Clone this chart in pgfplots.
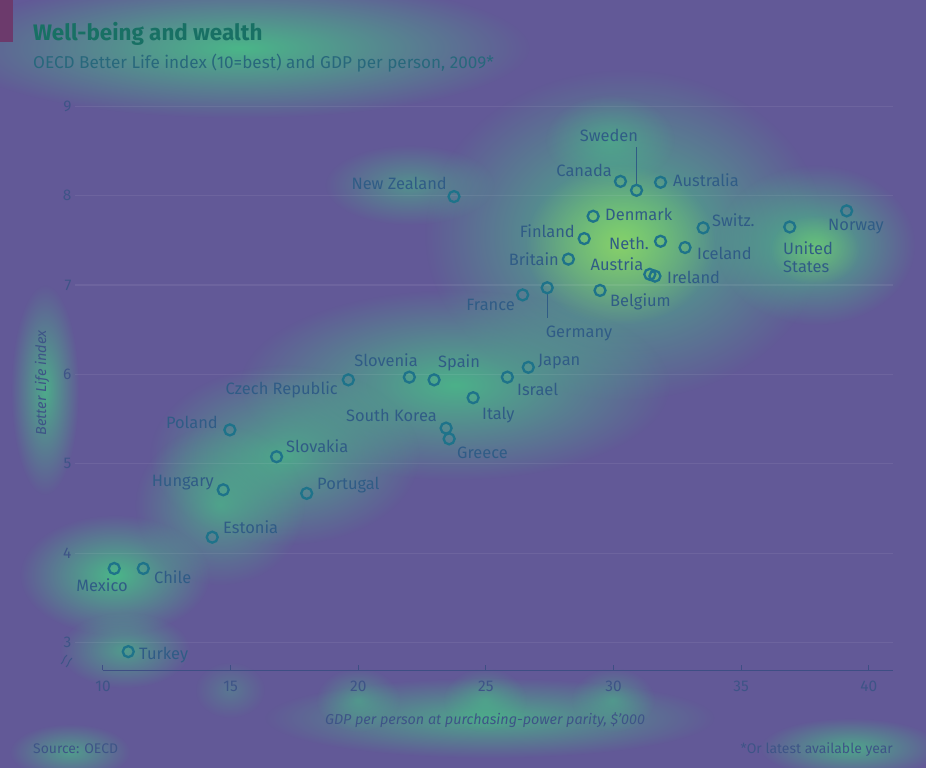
\documentclass[border=0pt]{standalone}
\usepackage{pgfplots}
\pgfplotsset{compat=1.18}
\usepackage{pgfplotstable}
\usepackage{fontspec}
\setmainfont{Fira Sans}
\usetikzlibrary{fadings}
\tikzfading[name=glow, inner color=transparent!0, outer color=transparent!100]
\definecolor{bgc}{RGB}{98,89,151}
\definecolor{axisc}{RGB}{62,78,132}
\definecolor{tickc}{RGB}{62,84,135}
\definecolor{lblc}{RGB}{48,92,134}
\definecolor{markc}{RGB}{30,115,138}
\definecolor{titlec}{RGB}{24,112,100}
\definecolor{subc}{RGB}{40,104,124}
\definecolor{glowc}{RGB}{72,192,135}
\definecolor{hotc}{RGB}{155,218,95}
\definecolor{redc}{RGB}{108,58,108}

\pgfplotstableread{
x y
10.99 2.90
10.44 3.83
11.58 3.83
14.28 4.18
14.71 4.71
14.97 5.38
16.80 5.08
17.98 4.67
19.61 5.94
22.00 5.97
22.97 5.94
23.44 5.40
23.56 5.28
24.50 5.74
25.84 5.97
26.66 6.08
23.75 7.99
26.44 6.89
27.40 6.97
29.47 6.94
28.23 7.29
28.85 7.52
29.20 7.77
31.42 7.12
31.62 7.10
30.27 8.16
30.90 8.06
31.84 8.15
31.84 7.49
32.80 7.42
33.51 7.64
36.90 7.65
39.13 7.83
}\data

\newcommand\lab[4]{\node[font=\fontsize{16.5}{19}\selectfont, text=lblc, inner sep=0pt, anchor=#1] at (#2bp,{768bp-#3bp}) {#4};}
\newcommand\glow[6]{\fill[#5, path fading=glow, fill opacity=#6] (#1bp,{768bp-#2bp}) ellipse (#3bp and #4bp);}

\begin{document}
\begin{tikzpicture}
\useasboundingbox (0,0) rectangle (926bp,768bp);
\fill[bgc] (0,0) rectangle (926bp,768bp);
% glows (behind the chart)
\glow{240}{48}{290}{70}{glowc}{0.9}
\glow{625}{235}{200}{165}{glowc}{0.9}
\glow{620}{245}{95}{80}{hotc}{0.75}
\glow{815}{245}{100}{80}{glowc}{0.85}
\glow{815}{250}{45}{35}{hotc}{0.4}
\glow{455}{385}{215}{95}{glowc}{0.85}
\glow{285}{455}{135}{90}{glowc}{0.75}
\glow{220}{505}{85}{80}{glowc}{0.65}
\glow{115}{575}{95}{60}{glowc}{0.9}
\glow{125}{650}{65}{38}{glowc}{0.65}
\glow{45}{390}{34}{105}{glowc}{0.8}
\glow{490}{718}{225}{40}{glowc}{0.75}
\glow{358}{700}{42}{32}{glowc}{0.5}
\glow{485}{700}{42}{32}{glowc}{0.5}
\glow{613}{700}{42}{32}{glowc}{0.5}
\glow{230}{690}{35}{28}{glowc}{0.3}
\glow{850}{748}{90}{30}{glowc}{0.75}
\glow{70}{752}{60}{28}{glowc}{0.65}
\glow{410}{185}{85}{40}{glowc}{0.55}
\glow{610}{140}{65}{45}{glowc}{0.55}
\fill[redc] (0,726bp) rectangle (13bp,768bp);
% titles
\node[anchor=base west, inner sep=0pt, font=\fontsize{22.5}{26}\selectfont\bfseries, text=titlec] at (33bp,{768bp-41bp}) {Well-being and wealth};
\node[anchor=base west, inner sep=0pt, font=\fontsize{17.2}{20}\selectfont, text=subc] at (33bp,{768bp-69bp}) {OECD Better Life index (10=best) and GDP per person, 2009*};
\begin{axis}[
  at={(74.9bp,97.6bp)}, anchor=south west, scale only axis,
  width=818.2bp, height=582bp,
  xmin=8.9, xmax=40.95, ymin=2.69, ymax=9.2,
  axis line style={draw=none},
  xtick={10,15,...,40}, ytick={3,...,9},
  ymajorgrids, grid style={white, draw opacity=0.07, line width=1.2bp},
  xtick pos=left, ytick pos=left,
  ytick style={draw=none},
  xtick align=inside, major tick length=5bp,
  xtick style={axisc, line width=1bp},
  ticklabel style={font=\fontsize{15.5}{18}\selectfont, text=tickc},
  /pgf/number format/assume math mode=true,
  xticklabel style={yshift=-7bp},
  clip=false,
]
\draw[axisc, line width=1.2bp] (axis cs:10,2.69) -- (axis cs:40.95,2.69);
\draw[lblc, line width=1bp] (axis cs:30.90,8.12) -- (axis cs:30.90,8.54);
\draw[lblc, line width=1bp] (axis cs:27.40,6.90) -- (axis cs:27.40,6.63);
\addplot[only marks, mark=o, mark size=5.5bp, mark options={line width=2.3bp, draw=markc}] table {\data};
\end{axis}
% axis break mark
\draw[tickc, line width=1bp] (61bp,{768bp-664bp}) .. controls (64bp,{768bp-662bp}) and (63bp,{768bp-658bp}) .. (67bp,{768bp-655bp});
\draw[tickc, line width=1bp] (66bp,{768bp-667bp}) .. controls (69bp,{768bp-665bp}) and (68bp,{768bp-661bp}) .. (72bp,{768bp-658bp});
% axis titles
\node[font=\fontsize{14.4}{17}\selectfont\itshape, text=tickc] at (485bp,{768bp-720bp}) {GDP per person at purchasing-power parity, \$'000};
\node[font=\fontsize{14.5}{17}\selectfont\itshape, text=tickc, rotate=90] at (42bp,{768bp-383bp}) {Better Life index};
\node[anchor=base west, inner sep=0pt, font=\fontsize{14}{16}\selectfont, text=tickc] at (33bp,{768bp-753bp}) {Source: OECD};
\node[anchor=base east, inner sep=0pt, font=\fontsize{14}{16}\selectfont, text=tickc] at (893bp,{768bp-753bp}) {*Or latest available year};
% labels
\lab{center}{609}{135}{Sweden}
\lab{east}{612}{170}{Canada}
\lab{west}{673}{180}{Australia}
\lab{east}{447}{183}{New Zealand}
\lab{west}{605}{214}{Denmark}
\lab{east}{575}{231}{Finland}
\lab{west}{609}{243}{Neth.}
\lab{west}{712}{220}{Switz.}
\lab{west}{697}{253}{Iceland}
\lab{center}{856}{227}{Norway}
\node[font=\fontsize{16.5}{18}\selectfont, text=lblc, inner sep=0pt, align=left, anchor=west] at (783bp,{768bp-257bp}) {United\\States};
\lab{east}{559}{259}{Britain}
\lab{center}{617}{264}{Austria}
\lab{west}{667}{277}{Ireland}
\lab{east}{515}{305}{France}
\lab{center}{579}{333}{Germany}
\lab{west}{610}{302}{Belgium}
\lab{center}{386}{360}{Slovenia}
\lab{west}{438}{363}{Spain}
\lab{west}{538}{362}{Japan}
\lab{east}{338}{390}{Czech Republic}
\lab{west}{517}{389}{Israel}
\lab{east}{437}{415}{South Korea}
\lab{west}{482}{415}{Italy}
\lab{east}{218}{422}{Poland}
\lab{west}{286}{446}{Slovakia}
\lab{west}{457}{453}{Greece}
\lab{east}{214}{483}{Hungary}
\lab{west}{317}{485}{Portugal}
\lab{west}{223}{527}{Estonia}
\lab{center}{102}{585}{Mexico}
\lab{west}{154}{577}{Chile}
\lab{west}{139}{655}{Turkey}
\end{tikzpicture}
\end{document}
